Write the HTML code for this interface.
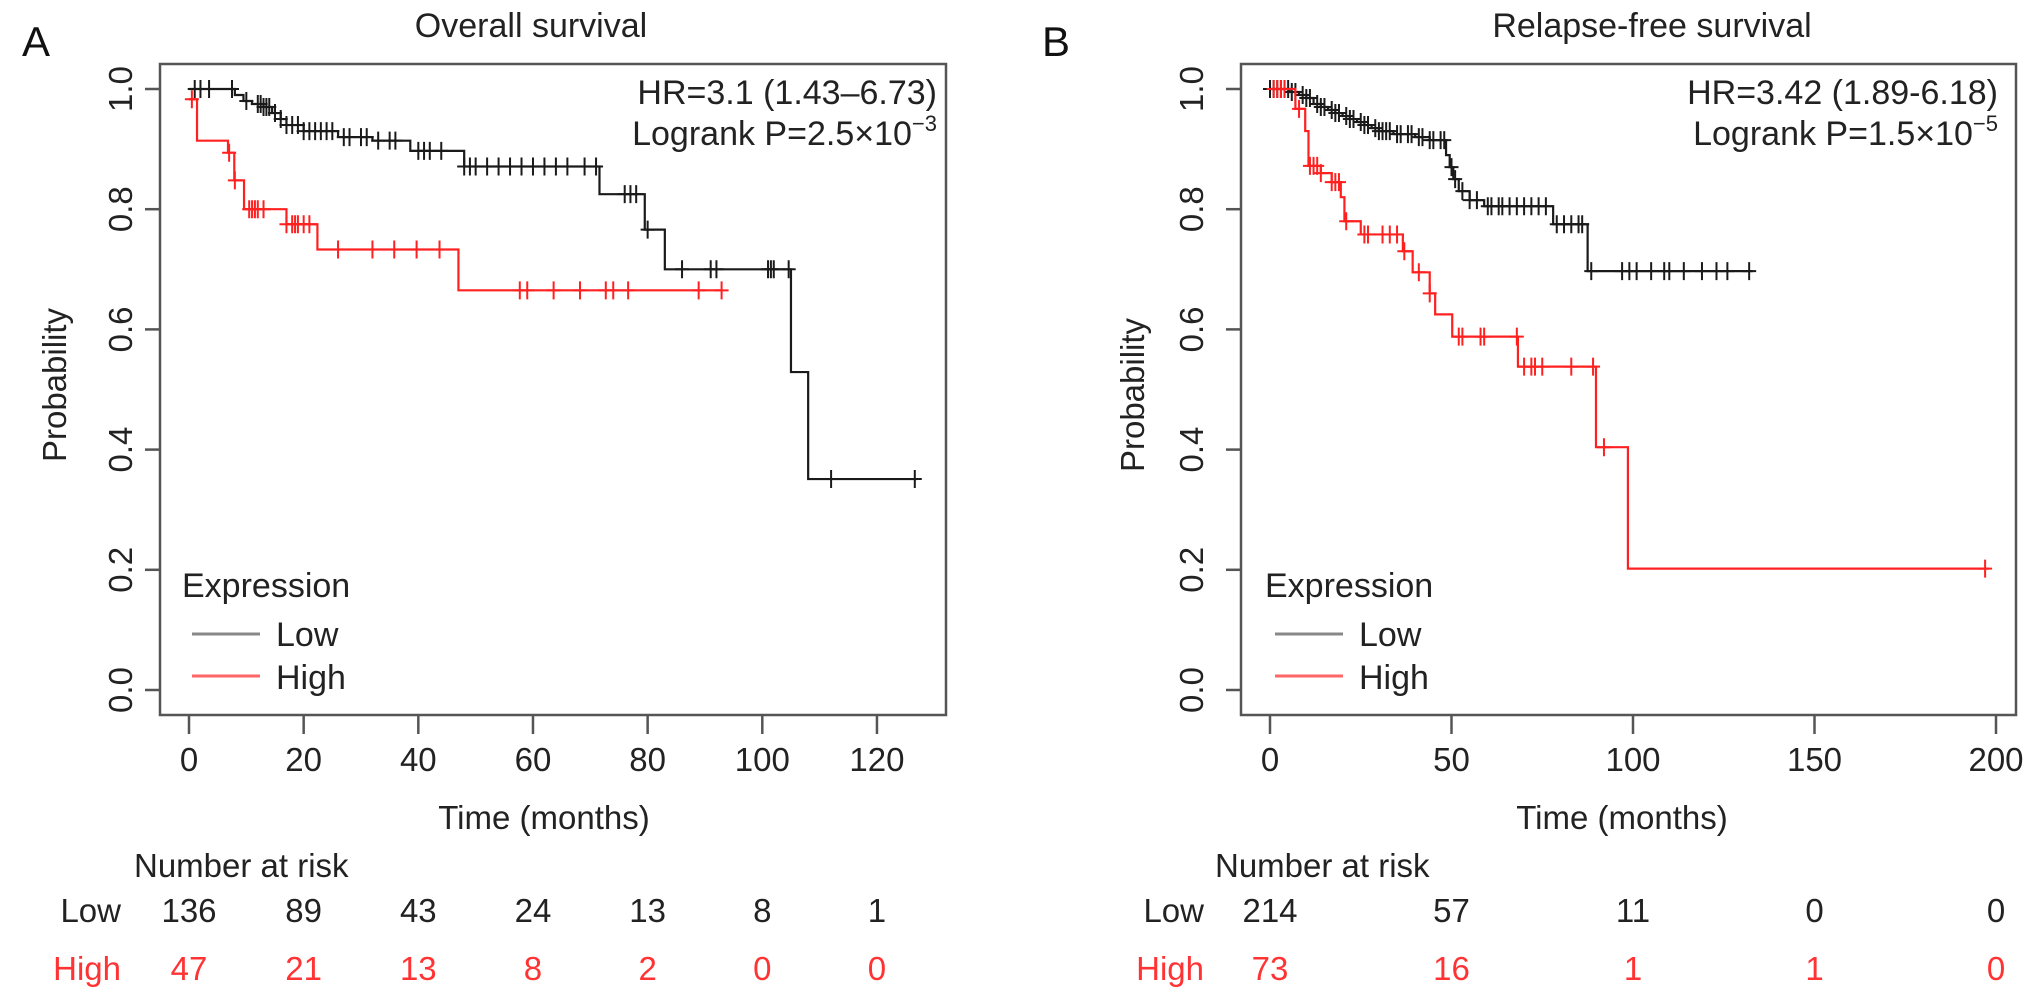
<!DOCTYPE html>
<html><head><meta charset="utf-8"><style>
html,body{margin:0;padding:0;background:#fff;}
svg{display:block;font-family:"Liberation Sans",Arial,sans-serif;}
</style></head><body>
<svg id="fig" width="2032" height="997" viewBox="0 0 2032 997">
<text x="22" y="56" font-size="42" fill="#111">A</text>
<text x="1042" y="56" font-size="42" fill="#111">B</text>
<g id="pa"></g>
<g id="pb"></g>
</svg>
<script>
// ---- Panel A data (Overall survival) ----
const aLowT = [0,8,9.5,11,13,14.5,16,17,20,26,32,38.6,48,71.6,79.5,83,105,108];
const aLowS = [1.0,0.99,0.98,0.975,0.97,0.96,0.95,0.94,0.93,0.92,0.914,0.897,0.871,0.825,0.766,0.70,0.529,0.351];
const aLowEnd = 127;
const aLowCens = [1,2,3.5,7.5,10,12,12.5,13,13.5,14,15,16,17,18,19,20,21,22,23,24,25,27,28,30,31,33,35,36,40,41,42,44,48,49,50,52,54,56,58,60,62,64,66,69,71,76,77,78,80,86,91,92,101,101.5,102,104.6,112,126.6];
const aHighT = [0,1.4,6.8,7.9,9.6,17,22.4,47];
const aHighS = [0.983,0.914,0.894,0.848,0.80,0.775,0.733,0.665];
const aHighEnd = 93;
const aHighCens = [0.5,7,8,10.5,11,11.5,12,13,17,18,18.5,19,20,21,26,32,35.8,39.7,43.7,57.7,59,63.6,68.2,72.7,74,76.6,88.9,92.9];
const aXTicks = [0,20,40,60,80,100,120];
const aRiskLow = ["136","89","43","24","13","8","1"];
const aRiskHigh = ["47","21","13","8","2","0","0"];
// ---- Panel B data (Relapse-free survival) ----
const bLowT = [0,5.4,8,10,12,14,16,18,20,22,24,26,28,30,34,40,44,48.5,49.5,50.5,52,55,59,78,87.5];
const bLowS = [1,0.995,0.99,0.985,0.975,0.97,0.965,0.96,0.955,0.95,0.945,0.94,0.935,0.93,0.925,0.92,0.915,0.89,0.87,0.85,0.83,0.815,0.805,0.775,0.697];
const bLowEnd = 133;
const bLowCens = [0,1,2,3,4,5,6,7,9,10,11,13,14,15,17,18,19,21,22,23,25,26,27,29,30,31,32,33,35,36,38,39,41,42,44,45,47,48,50,51,53,55,57,60,61,63,64,66,68,70,72,74,76,79,81,83,85,86,88.5,97,99,101,105,108.6,110,114,119,123,126,132];
const bHighT = [0,7,9.7,10.6,14,17,19.5,20.5,25,36.6,39.3,44,45.5,50.2,68.3,89.8,98.6];
const bHighS = [1,0.967,0.93,0.872,0.86,0.845,0.82,0.78,0.758,0.73,0.695,0.66,0.625,0.588,0.538,0.404,0.202];
const bHighEnd = 198;
const bHighCens = [1,2,3,4,8,11,12,13,14,17,18,19,21,26,27,31,33,35,37,41,44,52,53,58,59,68,70,72,73,75,83,89,92,197];
const bXTicks = [0,50,100,150,200];
const bRiskLow = ["214","57","11","0","0"];
const bRiskHigh = ["73","16","1","1","0"];
const yTicks = [0.0,0.2,0.4,0.6,0.8,1.0];

const NS = "http://www.w3.org/2000/svg";
function mk(tag, attrs, parent){const e=document.createElementNS(NS,tag);for(const k in attrs)e.setAttribute(k,attrs[k]);parent.appendChild(e);return e;}
function yS(v){return 690 - v*601;}
function stepAt(T,S,t){let s=S[0];for(let i=0;i<T.length;i++){if(T[i]<=t)s=S[i];}return s;}

function panel(g, o){
  const x=t=>o.x0 + t*o.ppm;
  let t=mk("text",{x:o.titleX,y:37,"font-size":34,"text-anchor":"middle",fill:"#222"},g);t.textContent=o.title;
  
  
  const box=mk("rect",{x:o.left,y:64,width:o.right-o.left,height:651,fill:"none",stroke:"#555","stroke-width":2.5},g);
  
  
  yTicks.forEach(v=>{
    const l=mk("line",{x1:o.left-15,x2:o.left,y1:yS(v),y2:yS(v),stroke:"#555","stroke-width":2.5},g);
    
    
    const tx=mk("text",{x:0,y:0,"font-size":33,"text-anchor":"middle",fill:"#222",transform:`translate(${o.ylabX},${yS(v)}) rotate(-90) translate(0,12)`},g);
    tx.textContent=v.toFixed(1);
    
    
  });
  const yt=mk("text",{x:0,y:0,"font-size":33,"text-anchor":"middle",fill:"#222",transform:`translate(${o.ytitleX},${o.ytitleY}) rotate(-90) translate(0,12)`},g);
  yt.textContent="Probability";
  
  
  o.xTicks.forEach((v,i)=>{
    const l=mk("line",{x1:x(v),x2:x(v),y1:715,y2:734,stroke:"#555","stroke-width":2.5},g);
    
    
    const tx=mk("text",{x:x(v),y:771,"font-size":33,"text-anchor":"middle",fill:"#222"},g);
    tx.textContent=String(v);
    
    
    const r1=mk("text",{x:x(v),y:922,"font-size":33,"text-anchor":"middle",fill:"#222"},g);
    r1.textContent=o.riskLow[i];
    
    
    const r2=mk("text",{x:x(v),y:980,"font-size":33,"text-anchor":"middle",fill:"#ff3333"},g);
    r2.textContent=o.riskHigh[i];
    
    
  });
  const xt=mk("text",{x:o.xtitleX,y:829,"font-size":33,"text-anchor":"middle",fill:"#222"},g);
  xt.textContent="Time (months)";
  
  
  const nr=mk("text",{x:o.nrX,y:877,"font-size":33,fill:"#222"},g);
  nr.textContent="Number at risk";
  
  
  const lo=mk("text",{x:o.rowLabX,y:922,"font-size":33,"text-anchor":"end",fill:"#222"},g);
  lo.textContent="Low";
  
  
  const hi=mk("text",{x:o.rowLabX,y:980,"font-size":33,"text-anchor":"end",fill:"#ff3333"},g);
  hi.textContent="High";
  
  
  const hr=mk("text",{x:o.statX,y:104,"font-size":34,"text-anchor":"end",fill:"#222"},g);
  hr.textContent=o.hr;
  
  
  const lr=mk("text",{x:o.statX,y:145,"font-size":34,"text-anchor":"end",fill:"#222"},g);
  lr.innerHTML=o.lr+'<tspan font-size="22" dy="-14">'+o.exp+'</tspan>';
  
  
  function curve(T,S,end,cens,col,name){
    let d=`M${x(T[0])},${yS(S[0])}`;
    for(let i=1;i<T.length;i++){d+=`H${x(T[i])}V${yS(S[i])}`;}
    d+=`H${x(end)}`;
    const p=mk("path",{d:d,fill:"none",stroke:col,"stroke-width":2.2},g);
    
    
    cens.forEach(c=>{
      const cx=x(c), cy=yS(stepAt(T,S,c));
      const m=mk("path",{d:`M${cx-7},${cy}H${cx+7}M${cx},${cy-9}V${cy+9}`,stroke:col,"stroke-width":2},g);
      
      
    });
  }
  curve(o.lowT,o.lowS,o.lowEnd,o.lowC,"#1a1a1a","low-expression");
  curve(o.highT,o.highS,o.highEnd,o.highC,"#ff2020","high-expression");
  const lg=mk("g",{},g);
  
  
  const et=mk("text",{x:o.legX-10,y:597,"font-size":34,fill:"#222"},lg);
  et.textContent="Expression";
  
  
  [["Low","#888",634,646],["High","#ff6666",676,689]].forEach(r=>{
    const l=mk("line",{x1:o.legX,x2:o.legX+68,y1:r[2],y2:r[2],stroke:r[1],"stroke-width":3},lg);
    
    
    const tx=mk("text",{x:o.legX+84,y:r[3],"font-size":34,fill:"#222"},lg);
    tx.textContent=r[0];
    
    
  });
}

panel(document.getElementById("pa"),{
  x0:189, ppm:5.733, left:160, right:946, title:"Overall survival", titleX:531,
  ylabX:120, ytitleX:54, ytitleY:385, xTicks:aXTicks, riskLow:aRiskLow, riskHigh:aRiskHigh,
  nrX:134, rowLabX:121, statX:937, hr:"HR=3.1 (1.43–6.73)", lr:"Logrank P=2.5×10", exp:"−3",
  lowT:aLowT, lowS:aLowS, lowEnd:aLowEnd, lowC:aLowCens, highT:aHighT, highS:aHighS, highEnd:aHighEnd, highC:aHighCens, xtitleX:544,
  legX:192
});
panel(document.getElementById("pb"),{
  x0:1270, ppm:3.63, left:1241, right:2016, title:"Relapse-free survival", titleX:1652,
  ylabX:1191, ytitleX:1132, ytitleY:395, xTicks:bXTicks, riskLow:bRiskLow, riskHigh:bRiskHigh,
  nrX:1215, rowLabX:1204, statX:1998, hr:"HR=3.42 (1.89-6.18)", lr:"Logrank P=1.5×10", exp:"−5",
  lowT:bLowT, lowS:bLowS, lowEnd:bLowEnd, lowC:bLowCens, highT:bHighT, highS:bHighS, highEnd:bHighEnd, highC:bHighCens, xtitleX:1622,
  legX:1275
});
</script>
</body></html>
